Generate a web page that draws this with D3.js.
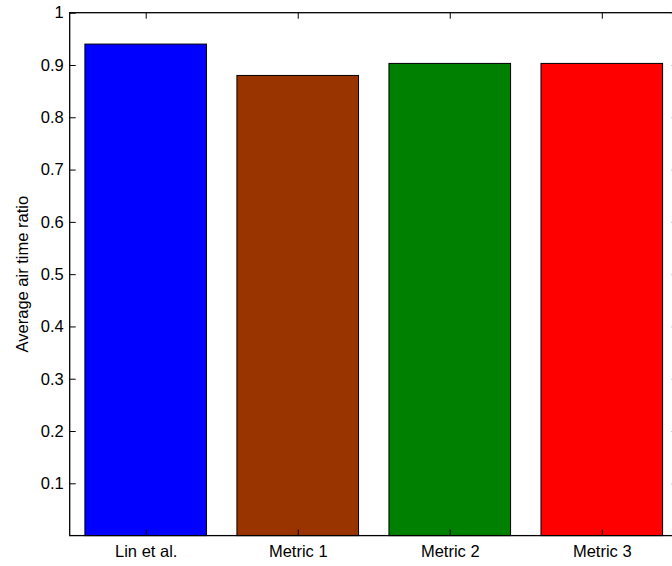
<!DOCTYPE html>
<html>
<head>
<meta charset="utf-8">
<script src="https://cdn.jsdelivr.net/npm/d3@7"></script>
<style>
  html, body { margin: 0; padding: 0; background: #fff; overflow: hidden; }
  svg { display: block; }
  text { font-family: "Liberation Sans", Arial, Helvetica, sans-serif; fill: #000; }
</style>
</head>
<body>
<svg id="chart" width="672" height="566"></svg>
<script>
// Average air time ratio per method
const categories = ["Lin et al.", "Metric 1", "Metric 2", "Metric 3"];
const values = [0.94, 0.88, 0.903, 0.903];
const barColors = ["#0000ff", "#993300", "#008000", "#ff0000"];
const yTicks = [0.1, 0.2, 0.3, 0.4, 0.5, 0.6, 0.7, 0.8, 0.9, 1];
const yTickLabels = ["0.1", "0.2", "0.3", "0.4", "0.5", "0.6", "0.7", "0.8", "0.9", "1"];
const yLabel = "Average air time ratio";

const svg = d3.select("#chart");
const fontSize = 16.5;

// plot box (right edge runs past the window)
const boxLeft = 69.7, boxRight = 677.8, boxTop = 12.7, boxBottom = 535.6;

const x = d3.scaleLinear().domain([0.5, categories.length + 0.5]).range([boxLeft, boxRight]);
const y = d3.scaleLinear().domain([0, 1]).range([boxBottom, boxTop]);
const barHalf = 0.4;

// bars
svg.append("g").selectAll("rect")
  .data(values)
  .join("rect")
  .attr("x", (d, i) => x(i + 1 - barHalf))
  .attr("width", (d, i) => x(i + 1 + barHalf) - x(i + 1 - barHalf))
  .attr("y", d => y(d))
  .attr("height", d => y(0) - y(d))
  .attr("fill", (d, i) => barColors[i])
  .attr("stroke", "#000")
  .attr("stroke-width", 1);

const axisG = svg.append("g");

// left axis: ticks point inward
const yAxisLeft = d3.axisLeft(y)
  .tickValues(yTicks)
  .tickFormat((d, i) => yTickLabels[i])
  .tickSizeInner(-6)
  .tickSizeOuter(0)
  .tickPadding(6);
const gl = axisG.append("g").attr("transform", `translate(${boxLeft},0)`).call(yAxisLeft);
gl.select(".domain").remove();
gl.selectAll(".tick line").attr("stroke", "#000").attr("stroke-width", 1);
gl.selectAll(".tick text").attr("font-size", fontSize).attr("font-family", null).attr("fill", "#000");

// right axis: ticks only, pointing inward
const yAxisRight = d3.axisRight(y)
  .tickValues(yTicks)
  .tickFormat("")
  .tickSizeInner(-6)
  .tickSizeOuter(0);
const gr = axisG.append("g").attr("transform", `translate(${boxRight},0)`).call(yAxisRight);
gr.select(".domain").remove();
gr.selectAll(".tick line").attr("stroke", "#000").attr("stroke-width", 1);

// bottom axis: category labels
const xAxisBottom = d3.axisBottom(x)
  .tickValues(d3.range(1, categories.length + 1))
  .tickFormat((d, i) => categories[i])
  .tickSizeInner(-6)
  .tickSizeOuter(0)
  .tickPadding(10);
const gb = axisG.append("g").attr("transform", `translate(0,${boxBottom})`).call(xAxisBottom);
gb.select(".domain").remove();
gb.selectAll(".tick line").attr("stroke", "#000").attr("stroke-width", 1);
gb.selectAll(".tick text").attr("font-size", fontSize).attr("font-family", null).attr("fill", "#000");

// top axis: ticks only
const xAxisTop = d3.axisTop(x)
  .tickValues(d3.range(1, categories.length + 1))
  .tickFormat("")
  .tickSizeInner(-6)
  .tickSizeOuter(0);
const gt = axisG.append("g").attr("transform", `translate(0,${boxTop})`).call(xAxisTop);
gt.select(".domain").remove();
gt.selectAll(".tick line").attr("stroke", "#000").attr("stroke-width", 1);

// box outline
axisG.append("rect")
  .attr("x", boxLeft).attr("y", boxTop)
  .attr("width", boxRight - boxLeft).attr("height", boxBottom - boxTop)
  .attr("fill", "none").attr("stroke", "#000").attr("stroke-width", 1.3);

// y axis title
svg.append("text")
  .attr("transform", `translate(22,${(boxTop + boxBottom) / 2}) rotate(-90)`)
  .attr("text-anchor", "middle")
  .attr("dominant-baseline", "central")
  .attr("font-size", fontSize)
  .text(yLabel);
</script>
</body>
</html>
